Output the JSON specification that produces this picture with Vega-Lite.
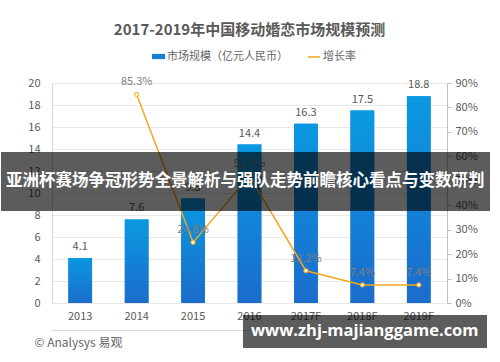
{
  "$schema": "https://vega.github.io/schema/vega-lite/v6.json",
  "autosize": {"type": "none"},
  "width": 395,
  "height": 220,
  "padding": {"left": 52, "top": 83, "right": 53, "bottom": 59},
  "background": "white",
  "config": {"font": "Noto Sans CJK SC", "view": {"stroke": null}},
  "title": {"text": "2017-2019年中国移动婚恋市场规模预测", "fontSize": 15, "fontWeight": "bold", "color": "#595959", "anchor": "middle", "offset": 12},
  "data": {"values": [
    {"year": "2013", "size": 4.1, "rate": null},
    {"year": "2014", "size": 7.6, "rate": 0.853},
    {"year": "2015", "size": 9.5, "rate": 0.248},
    {"year": "2016", "size": 14.4, "rate": 0.519},
    {"year": "2017F", "size": 16.3, "rate": 0.132},
    {"year": "2018F", "size": 17.5, "rate": 0.074},
    {"year": "2019F", "size": 18.8, "rate": 0.074}
  ]},
  "encoding": {
    "x": {"field": "year", "type": "nominal", "sort": null,
      "scale": {"paddingInner": 0.58, "paddingOuter": 0.29},
      "axis": {"labelAngle": 0, "offset": 27, "domainColor": "#d9d9d9", "ticks": false, "labelPadding": -20, "labelColor": "#595959", "labelFontSize": 11,
        "title": "© Analysys 易观", "titleAnchor": "start", "titleAlign": "left", "titleX": -18, "titleY": 12, "titleBaseline": "middle", "titleFontWeight": "normal", "titleColor": "#666666", "titleFontSize": 12}}
  },
  "layer": [
    {
      "encoding": {
        "y": {"field": "size", "type": "quantitative", "scale": {"domain": [0, 20]},
          "axis": {"orient": "left", "values": [0, 2, 4, 6, 8, 10, 12, 14, 16, 18, 20], "grid": true, "gridColor": "#e8e8e8", "domainColor": "#d9d9d9", "ticks": false, "labelPadding": 12, "labelColor": "#595959", "labelFontSize": 11, "title": null}}
      },
      "resolve": {"scale": {"shape": "independent"}, "legend": {"shape": "independent"}},
      "layer": [
        {
          "mark": {"type": "bar"},
          "encoding": {
            "fill": {"datum": "市场规模（亿元人民币）", "type": "nominal", "scale": {"range": ["#1282d6"]},
              "legend": {"orient": "none", "legendX": 100, "legendY": -33, "direction": "horizontal", "title": null, "symbolType": "M-1,-0.4H1V0.4H-1Z", "symbolSize": 169, "symbolStrokeWidth": 0, "labelColor": "#666666", "labelFontSize": 11, "labelOffset": 2, "labelLimit": 300}}
          }
        },
        {
          "mark": {"type": "bar", "color": {"x1": 0, "y1": 0, "x2": 0, "y2": 1, "gradient": "linear", "stops": [{"offset": 0, "color": "#0a99e1"}, {"offset": 1, "color": "#1b6ccb"}]}}
        },
        {
          "mark": {"type": "text", "dy": -11, "baseline": "middle", "fontSize": 11, "color": "#595959"},
          "encoding": {"text": {"field": "size", "type": "quantitative", "format": ".1f"}}
        },
        {
          "mark": {"type": "point", "opacity": 0, "size": 1},
          "encoding": {
            "shape": {"datum": "b1", "type": "nominal",
              "legend": {"orient": "none", "legendX": -51, "legendY": 69, "zindex": 1,
                "title": [" ", "亚洲杯赛场争冠形势全景解析与强队走势前瞻核心看点与变数研判", " "],
                "titleFontSize": 16.5, "titleFontWeight": "bold", "titleColor": "#ffffff", "titleLineHeight": 16, "titleLimit": 1000, "titlePadding": 0, "titleAnchor": "start",
                "fillColor": "rgba(0,0,0,0.64)", "padding": 5,
                "labelExpr": "''", "labelFontSize": 1, "symbolOpacity": 0, "symbolSize": 0, "symbolStrokeWidth": 0}}
          }
        },
        {
          "mark": {"type": "point", "opacity": 0, "size": 1},
          "encoding": {
            "shape": {"datum": "b2", "type": "nominal",
              "legend": {"orient": "none", "legendX": 191, "legendY": 232, "zindex": 1,
                "title": "www.zhj-majianggame.com",
                "titleFont": "Open Sans", "titleFontSize": 16.5, "titleFontWeight": "bold", "titleColor": "#ffffff", "titleLimit": 1000, "titlePadding": 0,
                "fillColor": "rgba(0,0,0,0.64)", "padding": 8,
                "labelExpr": "''", "labelFontSize": 1, "symbolOpacity": 0, "symbolSize": 0, "symbolStrokeWidth": 0}}
          }
        }
      ]
    },
    {
      "transform": [{"filter": "datum.rate != null"}],
      "encoding": {
        "y": {"field": "rate", "type": "quantitative", "scale": {"domain": [0, 0.9]},
          "axis": {"orient": "right", "format": ".0%", "values": [0, 0.1, 0.2, 0.3, 0.4, 0.5, 0.6, 0.7, 0.8, 0.9], "grid": false, "domainColor": "#bfbfbf", "tickColor": "#bfbfbf", "tickSize": 4, "labelPadding": 4, "labelColor": "#595959", "labelFontSize": 11, "title": null}}
      },
      "layer": [
        {
          "mark": {"type": "line", "strokeWidth": 1.5},
          "encoding": {
            "stroke": {"datum": "增长率", "type": "nominal", "scale": {"range": ["#f5a623"]},
              "legend": {"orient": "none", "legendX": 255, "legendY": -33, "title": null, "symbolType": "stroke", "symbolSize": 150, "symbolStrokeWidth": 1.5, "labelColor": "#666666", "labelFontSize": 11, "labelOffset": 2}}
          }
        },
        {
          "mark": {"type": "point", "filled": true, "fill": "#fff6c2", "stroke": "#f5a623", "strokeWidth": 1, "size": 18, "opacity": 1}
        },
        {
          "mark": {"type": "text", "dy": -12, "baseline": "middle", "fontSize": 11, "color": "#7f7f7f"},
          "encoding": {"text": {"field": "rate", "type": "quantitative", "format": ".1%"}}
        }
      ]
    }
  ],
  "resolve": {"scale": {"y": "independent"}}
}
